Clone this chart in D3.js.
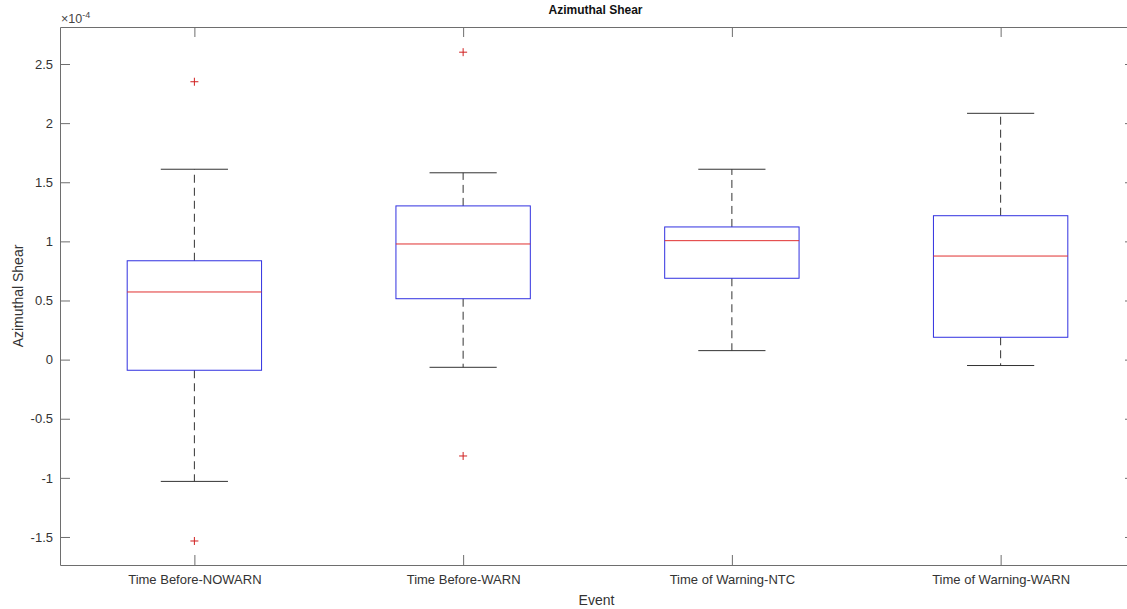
<!DOCTYPE html>
<html>
<head>
<meta charset="utf-8">
<script src="https://cdn.jsdelivr.net/npm/d3@7"></script>
<style>
  body { margin: 0; background: #fff; }
  text { font-family: "Liberation Sans", Arial, sans-serif; }
</style>
</head>
<body id="body">
<script>
// boxplot values, in units of 1e-4
var categories = ["Time Before-NOWARN", "Time Before-WARN", "Time of Warning-NTC", "Time of Warning-WARN"];
var lowerWhisker = [-1.03, -0.065, 0.076, -0.05];
var q1Values = [-0.09, 0.515, 0.688, 0.189];
var medianValues = [0.572, 0.978, 1.006, 0.876];
var q3Values = [0.836, 1.30, 1.122, 1.217];
var upperWhisker = [1.61, 1.58, 1.61, 2.083];
var outliers = [[2.35, -1.534], [2.60, -0.815], [], []];
var yTicks = [-1.5, -1, -0.5, 0, 0.5, 1, 1.5, 2, 2.5];

var width = 1127, height = 609;
// note: "top" is a reserved window property, so use other names
var plotL = 60, plotR = 1135, plotT = 27, plotB = 565;

var svg = d3.select("body").append("svg")
    .attr("width", width)
    .attr("height", height);

var x = d3.scaleLinear().domain([0.5, 4.5]).range([plotL, plotR]);
var y = d3.scaleLinear().domain([-1.737, 2.813]).range([plotB, plotT]);

var axisColor = "#6e6e6e";
var boxHalf = 0.25, capHalf = 0.125;

// axes (ticks point inward like matlab)
function styleAxis(g) {
    g.selectAll("path, line").attr("stroke", axisColor);
    g.selectAll("text").attr("fill", "#333").style("font-size", "13px");
}

svg.append("g")
    .attr("transform", "translate(" + plotL + ",0)")
    .call(d3.axisLeft(y).tickValues(yTicks).tickSizeInner(-10).tickSizeOuter(0).tickPadding(7)
        .tickFormat(function (d) { return d.toString(); }))
    .call(styleAxis);

svg.append("g")
    .attr("transform", "translate(" + plotR + ",0)")
    .call(d3.axisRight(y).tickValues(yTicks).tickSizeInner(-10).tickSizeOuter(0).tickFormat(""))
    .call(styleAxis);

svg.append("g")
    .attr("transform", "translate(0," + plotB + ")")
    .call(d3.axisBottom(x).tickValues([1, 2, 3, 4]).tickSizeInner(-10).tickSizeOuter(0).tickPadding(10)
        .tickFormat(function (d) { return categories[d - 1]; }))
    .call(styleAxis);

svg.append("g")
    .attr("transform", "translate(0," + plotT + ")")
    .call(d3.axisTop(x).tickValues([1, 2, 3, 4]).tickSizeInner(-10).tickSizeOuter(0).tickFormat(""))
    .call(styleAxis);

// boxes
var idx = d3.range(categories.length);
var g = svg.selectAll(".box")
    .data(idx)
    .enter().append("g")
    .attr("class", "box");

// whiskers dashed
g.append("line")
    .attr("x1", function (i) { return x(i + 1); })
    .attr("x2", function (i) { return x(i + 1); })
    .attr("y1", function (i) { return y(q3Values[i]); })
    .attr("y2", function (i) { return y(upperWhisker[i]); })
    .attr("stroke", "#333").attr("stroke-dasharray", "8,5");
g.append("line")
    .attr("x1", function (i) { return x(i + 1); })
    .attr("x2", function (i) { return x(i + 1); })
    .attr("y1", function (i) { return y(q1Values[i]); })
    .attr("y2", function (i) { return y(lowerWhisker[i]); })
    .attr("stroke", "#333").attr("stroke-dasharray", "8,5");

// caps
g.append("line")
    .attr("x1", function (i) { return x(i + 1 - capHalf); })
    .attr("x2", function (i) { return x(i + 1 + capHalf); })
    .attr("y1", function (i) { return y(upperWhisker[i]); })
    .attr("y2", function (i) { return y(upperWhisker[i]); })
    .attr("stroke", "#333");
g.append("line")
    .attr("x1", function (i) { return x(i + 1 - capHalf); })
    .attr("x2", function (i) { return x(i + 1 + capHalf); })
    .attr("y1", function (i) { return y(lowerWhisker[i]); })
    .attr("y2", function (i) { return y(lowerWhisker[i]); })
    .attr("stroke", "#333");

// box
g.append("rect")
    .attr("x", function (i) { return x(i + 1 - boxHalf); })
    .attr("width", function (i) { return x(i + 1 + boxHalf) - x(i + 1 - boxHalf); })
    .attr("y", function (i) { return y(q3Values[i]); })
    .attr("height", function (i) { return y(q1Values[i]) - y(q3Values[i]); })
    .attr("fill", "none")
    .attr("stroke", "#3030e0");

// median
g.append("line")
    .attr("x1", function (i) { return x(i + 1 - boxHalf); })
    .attr("x2", function (i) { return x(i + 1 + boxHalf); })
    .attr("y1", function (i) { return y(medianValues[i]); })
    .attr("y2", function (i) { return y(medianValues[i]); })
    .attr("stroke", "#e03030");

// outliers as red +
var pts = [];
outliers.forEach(function (arr, i) {
    arr.forEach(function (v) { pts.push({ i: i, v: v }); });
});
svg.selectAll(".outlier")
    .data(pts)
    .enter().append("path")
    .attr("class", "outlier")
    .attr("d", function (d) {
        var cx = x(d.i + 1), cy = y(d.v);
        return "M" + (cx - 4) + "," + cy + "H" + (cx + 4) + "M" + cx + "," + (cy - 4) + "V" + (cy + 4);
    })
    .attr("stroke", "#d02020")
    .attr("fill", "none");

// texts
svg.append("text")
    .attr("x", (plotL + plotR) / 2 - 2)
    .attr("y", 14)
    .attr("text-anchor", "middle")
    .style("font-size", "12px")
    .style("font-weight", "bold")
    .attr("fill", "#111")
    .text("Azimuthal Shear");

var exp = svg.append("text")
    .attr("x", plotL + 1)
    .attr("y", 23)
    .style("font-size", "12.5px")
    .attr("fill", "#444");
exp.append("tspan").text("\u00d710");
exp.append("tspan").attr("dy", -5).style("font-size", "9px").text("-4");

svg.append("text")
    .attr("transform", "translate(23," + (plotT + plotB) / 2 + ") rotate(-90)")
    .attr("text-anchor", "middle")
    .style("font-size", "14px")
    .attr("fill", "#333")
    .text("Azimuthal Shear");

svg.append("text")
    .attr("x", (plotL + plotR) / 2 - 1)
    .attr("y", 605)
    .attr("text-anchor", "middle")
    .style("font-size", "14px")
    .attr("fill", "#333")
    .text("Event");
</script>
</body>
</html>
